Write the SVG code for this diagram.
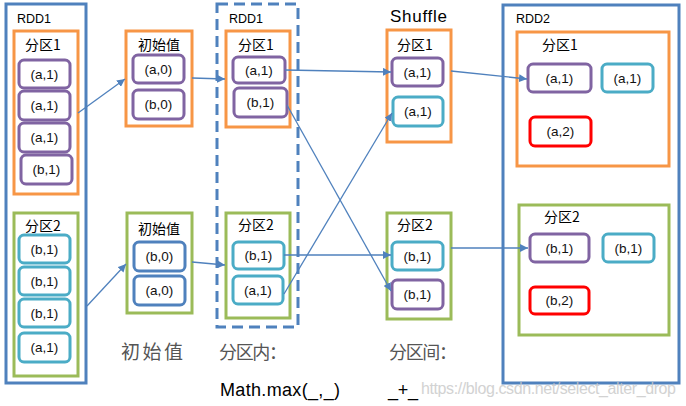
<svg xmlns="http://www.w3.org/2000/svg" width="686" height="406" viewBox="0 0 686 406">
<defs>
<style>
.rdd{fill:none;stroke:#4F81BD;stroke-width:3}
.dash{fill:none;stroke:#4F81BD;stroke-width:3;stroke-dasharray:11 6}
.or{fill:none;stroke:#F79646;stroke-width:3}
.gr{fill:none;stroke:#9BBB59;stroke-width:3}
.pu{fill:#fff;stroke:#8064A2;stroke-width:3}
.te{fill:#fff;stroke:#4BACC6;stroke-width:3}
.bl{fill:#fff;stroke:#4F81BD;stroke-width:3}
.rd{fill:#fff;stroke:#FF0000;stroke-width:3}
.t{font-family:"Liberation Sans","Noto Sans CJK SC",sans-serif;font-size:13.5px;fill:#111;text-anchor:middle}
.lab{font-family:"Noto Sans CJK SC",sans-serif;font-size:14px;fill:#000;text-anchor:middle}
.rl{font-family:"Liberation Sans",sans-serif;font-size:12.5px;fill:#000}
.big{font-family:"Noto Sans CJK SC",serif;font-size:18px;fill:#555}
.code{font-family:"Liberation Sans",sans-serif;font-size:18px;fill:#000}
.conn{stroke:#4F81BD;stroke-width:1.3;fill:none;marker-end:url(#ah)}
</style>
<marker id="ah" viewBox="0 0 10 10" refX="10" refY="5" markerWidth="8" markerHeight="8" markerUnits="userSpaceOnUse" orient="auto">
<path d="M0,0 L10,5 L0,10 z" fill="#4F81BD"/>
</marker>
</defs>

<g id="rdd1-left">
<rect class="rdd" x="6" y="4" width="80" height="379"/>
<text class="rl" x="17" y="23">RDD1</text>
</g>
<g id="left-p1">
<rect class="or" x="14" y="31" width="64" height="163"/>
<text class="lab" x="43" y="50">分区1</text>
<rect class="pu" x="19" y="60" width="51" height="28" rx="5"/><text class="t" x="44.5" y="79">(a,1)</text>
<rect class="pu" x="19" y="91" width="51" height="29" rx="5"/><text class="t" x="44.5" y="110">(a,1)</text>
<rect class="pu" x="19" y="123" width="51" height="29" rx="5"/><text class="t" x="44.5" y="142">(a,1)</text>
<rect class="pu" x="21" y="155" width="51" height="29" rx="5"/><text class="t" x="46.5" y="174">(b,1)</text>
</g>
<g id="left-p2">
<rect class="gr" x="14" y="213" width="64" height="163"/>
<text class="lab" x="43" y="231">分区2</text>
<rect class="te" x="19" y="235" width="51" height="28" rx="5"/><text class="t" x="44.5" y="254">(b,1)</text>
<rect class="te" x="19" y="267" width="51" height="28" rx="5"/><text class="t" x="44.5" y="286">(b,1)</text>
<rect class="te" x="19" y="299" width="51" height="28" rx="5"/><text class="t" x="44.5" y="318">(b,1)</text>
<rect class="te" x="19" y="333" width="51" height="29" rx="5"/><text class="t" x="44.5" y="352">(a,1)</text>
</g>

<g id="init1">
<rect class="or" x="126" y="31" width="66" height="95"/>
<text class="lab" x="159" y="50">初始值</text>
<rect class="pu" x="133" y="55" width="51" height="28" rx="5"/><text class="t" x="158.5" y="74">(a,0)</text>
<rect class="pu" x="133" y="90" width="51" height="29" rx="5"/><text class="t" x="158.5" y="109">(b,0)</text>
</g>
<g id="init2">
<rect class="gr" x="127" y="213" width="65" height="100"/>
<text class="lab" x="159" y="234">初始值</text>
<rect class="bl" x="134" y="242" width="51" height="29" rx="5"/><text class="t" x="159.5" y="261">(b,0)</text>
<rect class="bl" x="134" y="276" width="51" height="29" rx="5"/><text class="t" x="159.5" y="295">(a,0)</text>
</g>

<g id="rdd1-mid">
<rect class="dash" x="217" y="4" width="81" height="323"/>
<text class="rl" x="229" y="23">RDD1</text>
</g>
<g id="mid-p1">
<rect class="or" x="226" y="31" width="64" height="96"/>
<text class="lab" x="256" y="50">分区1</text>
<rect class="pu" x="233" y="57" width="52" height="26" rx="5"/><text class="t" x="259" y="75">(a,1)</text>
<rect class="pu" x="234" y="88" width="53" height="29" rx="5"/><text class="t" x="260.5" y="107">(b,1)</text>
</g>
<g id="mid-p2">
<rect class="gr" x="226" y="213" width="64" height="105"/>
<text class="lab" x="256" y="230">分区2</text>
<rect class="te" x="233" y="242" width="51" height="27" rx="5"/><text class="t" x="258.5" y="260">(b,1)</text>
<rect class="te" x="233" y="276" width="50" height="28" rx="5"/><text class="t" x="258" y="295">(a,1)</text>
</g>

<g id="shuffle-title"><text class="code" x="390" y="22" style="font-size:17px" textLength="57">Shuffle</text></g>
<g id="sh-p1">
<rect class="or" x="387" y="30" width="64" height="112"/>
<text class="lab" x="415" y="50">分区1</text>
<rect class="pu" x="392" y="58" width="51" height="28" rx="5"/><text class="t" x="417.5" y="77">(a,1)</text>
<rect class="te" x="393" y="97" width="50" height="29" rx="5"/><text class="t" x="418" y="116">(a,1)</text>
</g>
<g id="sh-p2">
<rect class="gr" x="387" y="213" width="64" height="106"/>
<text class="lab" x="415" y="230">分区2</text>
<rect class="te" x="392" y="242" width="51" height="28" rx="5"/><text class="t" x="417.5" y="261">(b,1)</text>
<rect class="pu" x="392" y="280" width="51" height="29" rx="5"/><text class="t" x="417.5" y="299">(b,1)</text>
</g>

<g id="rdd2">
<rect class="rdd" x="503" y="5" width="176" height="378"/>
<text class="rl" x="516" y="23">RDD2</text>
</g>
<g id="rdd2-p1">
<rect class="or" x="517" y="32" width="152" height="134"/>
<text class="lab" x="560" y="50">分区1</text>
<rect class="pu" x="528" y="64" width="63" height="28" rx="5"/><text class="t" x="559.5" y="83">(a,1)</text>
<rect class="te" x="602" y="64" width="51" height="28" rx="5"/><text class="t" x="627.5" y="83">(a,1)</text>
<rect class="rd" x="530" y="117" width="61" height="29" rx="5"/><text class="t" x="560.5" y="136">(a,2)</text>
</g>
<g id="rdd2-p2">
<rect class="gr" x="519" y="205" width="150" height="130"/>
<text class="lab" x="562" y="222">分区2</text>
<rect class="pu" x="530" y="234" width="59" height="28" rx="5"/><text class="t" x="559.5" y="253">(b,1)</text>
<rect class="te" x="603" y="234" width="51" height="28" rx="5"/><text class="t" x="628.5" y="253">(b,1)</text>
<rect class="rd" x="530" y="287" width="59" height="27" rx="5"/><text class="t" x="559.5" y="305">(b,2)</text>
</g>

<g id="connectors">
<line class="conn" x1="78" y1="113" x2="125" y2="79"/>
<line class="conn" x1="87" y1="306" x2="126" y2="264"/>
<line class="conn" x1="192" y1="78" x2="225" y2="79"/>
<line class="conn" x1="192" y1="262" x2="225" y2="265"/>
<line class="conn" x1="285" y1="70" x2="391" y2="72"/>
<line class="conn" x1="287" y1="105" x2="391" y2="291"/>
<line class="conn" x1="284" y1="294" x2="392" y2="113"/>
<line class="conn" x1="284" y1="255" x2="391" y2="255"/>
<line class="conn" x1="451" y1="71" x2="527" y2="79"/>
<line class="conn" x1="451" y1="248" x2="528" y2="248"/>
</g>

<g id="captions">
<text class="big" x="121" y="359" style="font-size:19px" textLength="62">初始值</text>
<text class="big" x="219" y="359" textLength="68">分区内：</text>
<text class="big" x="389" y="359" textLength="68">分区间：</text>
<text class="code" x="220" y="396" textLength="120">Math.max(_,_)</text>
<text class="code" x="388" y="396" textLength="30">_+_</text>
<text x="421" y="394" textLength="255" style="font-family:'Liberation Sans',sans-serif;font-size:16px;fill:#c8c8c8;opacity:0.8">https://blog.csdn.net/select_alter_drop</text>
</g>
</svg>
